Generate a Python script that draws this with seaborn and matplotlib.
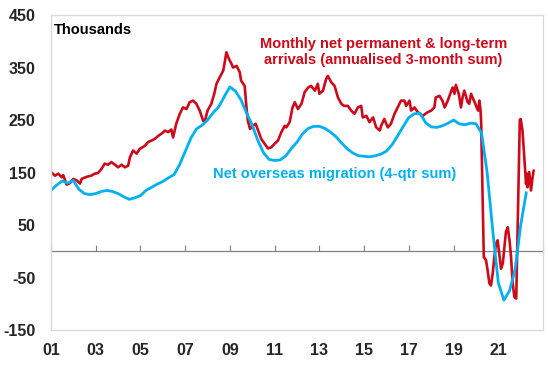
import numpy as np
import pandas as pd
import seaborn as sns
import matplotlib.pyplot as plt

# ---- data (thousands) ----
red_year = [2001.00, 2001.18, 2001.33, 2001.48, 2001.55, 2001.70, 2001.85, 2002.00, 2002.15, 2002.30,
            2002.37, 2002.60, 2002.80, 2002.96, 2003.10, 2003.26, 2003.40, 2003.56, 2003.70, 2003.86,
            2004.00, 2004.16, 2004.30, 2004.45, 2004.53, 2004.67, 2004.83, 2004.97, 2005.20, 2005.34,
            2005.50, 2005.64, 2005.80, 2005.94, 2006.10, 2006.24, 2006.38, 2006.46, 2006.60, 2006.76,
            2006.90, 2007.06, 2007.20, 2007.35, 2007.50, 2007.65, 2007.80, 2007.87, 2008.00, 2008.17,
            2008.30, 2008.40, 2008.54, 2008.70, 2008.77, 2008.84, 2008.96, 2009.07, 2009.14, 2009.30,
            2009.44, 2009.50, 2009.66, 2009.74, 2009.80, 2009.90, 2010.03, 2010.15, 2010.26, 2010.40,
            2010.55, 2010.70, 2010.85, 2011.00, 2011.15, 2011.30, 2011.45, 2011.52, 2011.67, 2011.80,
            2011.90, 2012.04, 2012.20, 2012.34, 2012.50, 2012.63, 2012.80, 2012.93, 2013.00, 2013.16,
            2013.30, 2013.38, 2013.53, 2013.68, 2013.83, 2013.98, 2014.10, 2014.27, 2014.42, 2014.57,
            2014.72, 2014.87, 2014.94, 2015.10, 2015.24, 2015.40, 2015.54, 2015.70, 2015.76, 2015.90,
            2016.06, 2016.20, 2016.36, 2016.50, 2016.65, 2016.80, 2016.88, 2017.03, 2017.10, 2017.25,
            2017.40, 2017.62, 2017.84, 2018.00, 2018.14, 2018.20, 2018.37, 2018.50, 2018.60, 2018.74,
            2018.90, 2018.96, 2019.04, 2019.10, 2019.23, 2019.33, 2019.40, 2019.48, 2019.63, 2019.70,
            2019.78, 2019.88, 2019.97, 2020.03, 2020.10, 2020.15, 2020.20, 2020.23, 2020.35, 2020.45,
            2020.52, 2020.60, 2020.67, 2020.75, 2020.82, 2020.90, 2020.97, 2021.04, 2021.12, 2021.20,
            2021.27, 2021.34, 2021.42, 2021.50, 2021.57, 2021.64, 2021.72, 2021.80, 2021.96, 2022.00,
            2022.08, 2022.16, 2022.24, 2022.27, 2022.30, 2022.38, 2022.46, 2022.53, 2022.58]
red_val = [151, 144, 148, 141, 145, 127, 130, 138, 135, 129,
           138, 142, 144, 148, 149, 157, 167, 165, 170, 165,
           160, 165, 160, 163, 179, 192, 186, 195, 201, 208,
           211, 214, 220, 224, 230, 227, 232, 217, 243, 262,
           274, 271, 284, 287, 281, 268, 249, 246, 268, 281,
           300, 319, 331, 344, 360, 379, 366, 357, 350, 353,
           341, 325, 315, 274, 249, 233, 239, 243, 230, 214,
           205, 196, 198, 205, 211, 227, 239, 236, 246, 274,
           284, 271, 281, 303, 312, 315, 306, 319, 300, 306,
           328, 334, 322, 315, 293, 281, 277, 277, 268, 262,
           274, 277, 255, 258, 246, 255, 236, 230, 239, 252,
           236, 243, 262, 274, 287, 287, 277, 287, 268, 274,
           265, 258, 265, 268, 274, 293, 296, 287, 274, 287,
           306, 312, 300, 317, 300, 274, 293, 306, 284, 281,
           300, 290, 281, 274, 268, 287, 271, 249, -11, -17,
           -36, -61, -65, -42, -11, 15, 21, -4, -33, -23,
           8, 37, 46, 21, -11, -61, -87, -90, 250, 252,
           230, 179, 128, 148, 122, 151, 116, 141, 154]

blue_year = list(np.arange(2001.0, 2022.26, 0.25))
blue_val = [116, 126, 134, 130, 135, 118, 110, 108, 110, 114,
            116, 114, 110, 104, 99, 102, 106, 116, 122, 128,
            133, 140, 146, 165, 190, 215, 233, 240, 250, 264,
            275, 295, 313, 305, 288, 263, 240, 211, 188, 175,
            173, 174, 182, 196, 208, 224, 234, 238, 238, 234,
            227, 218, 206, 195, 187, 182, 181, 180, 182, 185,
            191, 203, 220, 238, 255, 262, 263, 245, 237, 236,
            239, 244, 250, 243, 241, 244, 243, 225, 150, 40,
            -60, -93, -75, -35, 50, 112]

x_ticks = list(range(2001, 2024, 2))
x_labels = ['01', '03', '05', '07', '09', '11', '13', '15', '17', '19', '21', '']
y_ticks = [-150, -50, 50, 150, 250, 350, 450]

RED = '#CC0A1A'
BLUE = '#00B0F0'

sns.set_style('white')
plt.rcParams['font.family'] = ['Liberation Sans', 'DejaVu Sans']
plt.rcParams['font.weight'] = 'bold'
plt.rcParams['axes.unicode_minus'] = False

fig = plt.figure(figsize=(5.48, 3.66), dpi=100)
ax = fig.add_axes([0.093, 0.098, 0.898, 0.861])

sns.lineplot(x=red_year, y=red_val, color=RED, lw=1.9, estimator=None, ax=ax)
sns.lineplot(x=blue_year, y=blue_val, color=BLUE, lw=2.0, estimator=None, ax=ax)

ax.set_xlim(2001, 2023)
ax.set_ylim(-150, 450)
ax.set_xticks(x_ticks)
ax.set_xticklabels(x_labels)
ax.set_yticks(y_ticks)
ax.tick_params(axis='both', length=0, labelsize=11.5)
ax.tick_params(axis='x', pad=9)
ax.tick_params(axis='y', pad=11)
for lab in ax.get_xticklabels() + ax.get_yticklabels():
    lab.set_fontweight('bold')
for s in ax.spines.values():
    s.set_color('#d9d9d9')
    s.set_linewidth(1.0)

# zero line with small upward ticks
sec = ax.secondary_xaxis(0.25)
sec.set_xticks(x_ticks)
sec.tick_params(direction='in', length=4, width=0.8, color='#808080', labelbottom=False)
sec.spines['bottom'].set_color('#808080')
sec.spines['bottom'].set_linewidth(0.9)

ax.text(0.006, 0.975, 'Thousands', transform=ax.transAxes, ha='left', va='top',
        fontsize=10.5, fontweight='bold', color='black')
ax.text(0.675, 0.883, 'Monthly net permanent & long-term\narrivals (annualised 3-month sum)',
        transform=ax.transAxes, ha='center', va='center', fontsize=10.5,
        fontweight='bold', color=RED, linespacing=1.2)
ax.text(0.577, 0.495, 'Net overseas migration (4-qtr sum)', transform=ax.transAxes,
        ha='center', va='center', fontsize=10.5, fontweight='bold', color=BLUE)

ax.set_xlabel('')
ax.set_ylabel('')
fig.savefig('out.png', dpi=100)
